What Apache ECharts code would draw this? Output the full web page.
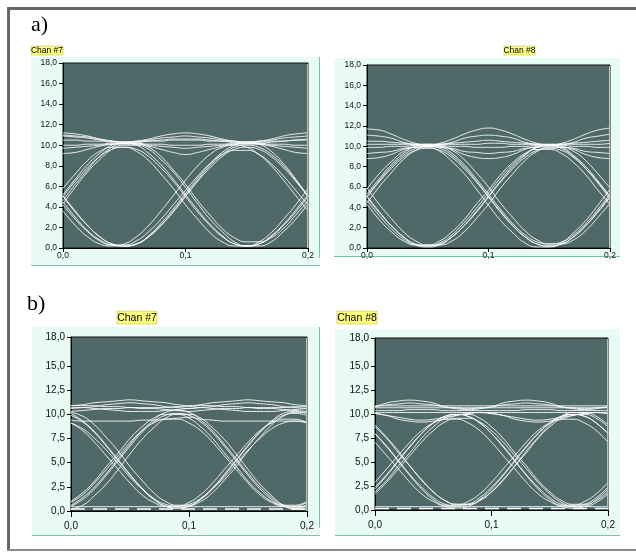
<!DOCTYPE html>
<html>
<head>
<meta charset="utf-8">
<script src="https://cdn.jsdelivr.net/npm/echarts@6/dist/echarts.min.js"></script>
<style>
html,body{margin:0;padding:0;background:#fff;}
#c{width:636px;height:554px;}
</style>
</head>
<body>
<div id="c"></div>
<script>
// time samples (s)
const xs = [0,0.01,0.02,0.03,0.04,0.05,0.06,0.07,0.08,0.09,0.1,0.11,0.12,0.13,0.14,0.15,0.16,0.17,0.18,0.19,0.2];
const xTicks = [0, 0.1, 0.2];
const yTicksA = [0,2,4,6,8,10,12,14,16,18];
const yTicksB = [0,2.5,5,7.5,10,12.5,15,18];
const panelTitles = ['Chan #7','Chan #8','Chan #7','Chan #8'];
const rowLabels = ['a)','b)'];

// ---- a) Chan #7 ----
const a7Rising = [
 [5.2,6.7,8.1,9.2,10.0,10.2,10.0,9.2,8.1,6.7,5.2,3.7,2.3,1.2,0.4,0.2,0.4,1.2,2.3,3.7,5.2],
 [4.3,5.9,7.4,8.6,9.6,10.0,10.0,9.6,8.6,7.4,5.9,4.3,2.8,1.6,0.6,0.2,0.2,0.6,1.6,2.8,4.3],
 [5.0,6.5,7.8,8.9,9.6,9.8,9.6,8.9,7.8,6.5,5.0,3.5,2.2,1.1,0.4,0.2,0.4,1.1,2.2,3.5,5.0],
 [4.6,6.2,7.6,8.9,9.8,10.2,10.2,9.8,8.9,7.6,6.2,4.6,3.2,1.9,1.0,0.6,0.6,1.0,1.9,3.2,4.6],
 [5.8,7.2,8.5,9.4,9.8,9.8,9.4,8.5,7.2,5.8,4.2,2.8,1.5,0.6,0.2,0.2,0.6,1.5,2.8,4.2,5.8]
];
const a7Falling = [
 [5.0,3.5,2.2,1.1,0.4,0.2,0.4,1.1,2.2,3.5,5.0,6.5,7.8,8.9,9.6,9.8,9.6,8.9,7.8,6.5,5.0],
 [4.2,2.8,1.6,0.7,0.3,0.3,0.7,1.6,2.8,4.2,5.6,7.0,8.2,9.1,9.5,9.5,9.1,8.2,7.0,5.6,4.2],
 [3.6,2.2,1.1,0.4,0.2,0.4,1.1,2.2,3.6,5.1,6.6,8.0,9.1,9.8,10.0,9.8,9.1,8.0,6.6,5.1,3.6],
 [5.1,3.6,2.2,1.1,0.4,0.2,0.4,1.1,2.2,3.6,5.1,6.6,8.0,9.1,9.8,10.0,9.8,9.1,8.0,6.6,5.1],
 [4.5,3.0,1.7,0.8,0.3,0.2,0.4,1.2,2.4,3.8,5.3,6.8,8.2,9.3,10.0,10.3,10.1,9.4,8.2,6.7,5.0]
];
const a7High = [
 [11.2,11.1,10.9,10.6,10.4,10.3,10.4,10.6,10.9,11.1,11.2,11.1,10.9,10.6,10.4,10.3,10.4,10.6,10.9,11.1,11.2],
 [9.2,9.3,9.6,9.9,10.1,10.2,10.1,9.9,9.6,9.3,9.1,9.3,9.6,9.9,10.1,10.2,10.1,9.9,9.6,9.3,9.2],
 [10.9,10.8,10.7,10.5,10.4,10.3,10.4,10.5,10.7,10.8,10.9,10.8,10.7,10.5,10.4,10.3,10.4,10.5,10.7,10.8,10.9],
 [9.7,9.8,9.9,10.0,10.1,10.1,10.1,10.0,9.9,9.8,9.7,9.8,9.9,10.0,10.1,10.1,10.1,10.0,9.9,9.8,9.7],
 [10.5,10.5,10.4,10.4,10.3,10.3,10.3,10.4,10.4,10.5,10.5,10.5,10.4,10.4,10.3,10.3,10.3,10.4,10.4,10.5,10.5],
 [10.0,10.0,10.1,10.1,10.2,10.2,10.2,10.1,10.1,10.0,10.0,10.0,10.1,10.1,10.2,10.2,10.2,10.1,10.1,10.0,10.0],
 [11.0,10.9,10.8,10.6,10.4,10.3,10.3,10.4,10.5,10.6,10.6,10.6,10.5,10.4,10.3,10.2,10.2,10.3,10.4,10.5,10.6]
];

// ---- a) Chan #8 ----
const a8Rising = [
 [5.1,6.6,8.0,9.1,9.8,10.0,9.8,9.1,8.0,6.6,5.1,3.6,2.2,1.1,0.4,0.2,0.4,1.1,2.2,3.6,5.1],
 [5.8,7.3,8.5,9.5,9.9,9.9,9.5,8.5,7.3,5.8,4.2,2.7,1.5,0.5,0.1,0.1,0.5,1.5,2.7,4.2,5.8],
 [4.4,6.0,7.4,8.7,9.6,10.0,10.0,9.6,8.7,7.4,6.0,4.4,3.0,1.7,0.8,0.4,0.4,0.8,1.7,3.0,4.4],
 [5.0,6.5,7.8,8.9,9.6,9.8,9.6,8.9,7.8,6.5,5.0,3.5,2.2,1.1,0.4,0.2,0.4,1.1,2.2,3.5,5.0],
 [5.3,6.8,8.2,9.3,10.0,10.2,10.0,9.3,8.2,6.8,5.3,3.8,2.4,1.3,0.6,0.4,0.6,1.3,2.4,3.8,5.3]
];
const a8Falling = [
 [5.1,3.6,2.2,1.1,0.3,0.1,0.3,1.1,2.2,3.6,5.1,6.6,8.0,9.1,9.9,10.1,9.9,9.1,8.0,6.6,5.1],
 [4.3,2.8,1.6,0.7,0.3,0.3,0.7,1.6,2.8,4.3,5.7,7.2,8.4,9.3,9.7,9.7,9.3,8.4,7.2,5.7,4.3],
 [5.9,4.3,2.9,1.6,0.7,0.3,0.3,0.7,1.6,2.9,4.3,5.9,7.3,8.6,9.5,9.9,9.9,9.5,8.6,7.3,5.9],
 [5.0,3.5,2.2,1.1,0.4,0.2,0.4,1.1,2.2,3.5,5.0,6.5,7.8,8.9,9.6,9.8,9.6,8.9,7.8,6.5,5.0],
 [4.7,3.2,1.9,0.9,0.3,0.2,0.5,1.3,2.5,3.9,5.4,6.9,8.2,9.2,9.9,10.1,9.8,9.0,7.8,6.4,4.8]
];
const a8High = [
 [11.7,11.6,11.2,10.7,10.3,10.1,10.3,10.7,11.2,11.6,11.8,11.6,11.2,10.7,10.3,10.1,10.3,10.7,11.2,11.6,11.8],
 [11.1,11.0,10.8,10.4,10.2,10.1,10.2,10.4,10.8,11.0,11.1,11.0,10.8,10.4,10.2,10.1,10.2,10.4,10.8,11.0,11.2],
 [8.8,8.9,9.2,9.7,10.0,10.1,10.0,9.7,9.2,8.9,8.8,8.9,9.2,9.7,10.0,10.1,10.0,9.7,9.2,8.9,8.8],
 [9.3,9.4,9.5,9.8,9.9,10.0,9.9,9.8,9.5,9.4,9.3,9.4,9.5,9.8,9.9,10.0,9.9,9.8,9.5,9.4,9.3],
 [10.5,10.5,10.4,10.3,10.2,10.2,10.2,10.3,10.4,10.5,10.6,10.5,10.4,10.3,10.2,10.2,10.2,10.3,10.4,10.5,10.6],
 [9.9,9.9,10.0,10.0,10.1,10.1,10.1,10.0,10.0,9.9,9.9,9.9,10.0,10.0,10.1,10.1,10.1,10.0,10.0,9.9,9.9],
 [10.2,10.2,10.2,10.2,10.2,10.2,10.2,10.2,10.2,10.2,10.3,10.3,10.2,10.2,10.2,10.2,10.2,10.2,10.2,10.2,10.3]
];

// ---- b) Chan #7 ----
const b7Rising = [
 [0.5,1.2,2.3,3.7,5.2,6.7,8.1,9.2,9.9,10.1,9.9,9.2,8.1,6.7,5.2,3.7,2.3,1.2,0.5,0.3,0.5],
 [1.0,1.9,3.1,4.6,6.0,7.5,8.7,9.6,10.0,10.0,9.6,8.7,7.5,6.0,4.6,3.1,1.9,1.0,0.6,0.6,1.0],
 [0.2,0.6,1.6,2.8,4.3,5.9,7.4,8.6,9.6,10.0,10.0,9.6,8.6,7.4,5.9,4.3,2.8,1.6,0.6,0.2,0.2],
 [0.6,1.4,2.5,3.9,5.4,6.9,8.3,9.4,10.2,10.4,10.2,9.4,8.3,6.9,5.4,3.9,2.5,1.4,0.6,0.4,0.6],
 [0.9,1.7,2.9,4.3,5.7,7.1,8.3,9.1,9.5,9.5,9.1,8.3,7.1,5.7,4.3,2.9,1.7,0.9,0.5,0.5,0.9]
];
const b7Falling = [
 [9.9,9.2,8.1,6.7,5.2,3.7,2.3,1.2,0.5,0.3,0.5,1.2,2.3,3.7,5.2,6.7,8.1,9.2,9.9,10.1,9.9],
 [9.1,8.3,7.1,5.7,4.3,2.9,1.7,0.9,0.5,0.5,0.9,1.7,2.9,4.3,5.7,7.1,8.3,9.1,9.5,9.5,9.1],
 [10.2,9.8,8.9,7.6,6.2,4.6,3.2,1.9,1.0,0.6,0.6,1.0,1.9,3.2,4.6,6.2,7.6,8.9,9.8,10.2,10.2],
 [10.1,9.3,8.2,6.8,5.3,3.8,2.4,1.3,0.5,0.3,0.5,1.3,2.4,3.8,5.3,6.8,8.2,9.3,10.1,10.3,10.1],
 [9.1,8.5,7.5,6.3,4.9,3.5,2.3,1.3,0.7,0.5,0.7,1.3,2.3,3.5,4.9,6.3,7.5,8.5,9.1,9.3,9.1]
];
const b7High = [
 [10.9,11.0,11.2,11.3,11.4,11.5,11.4,11.3,11.2,11.0,10.9,11.0,11.2,11.3,11.4,11.5,11.4,11.3,11.2,11.0,10.9],
 [10.6,10.7,10.8,11.0,11.1,11.2,11.1,11.0,10.8,10.7,10.6,10.7,10.8,11.0,11.1,11.2,11.1,11.0,10.8,10.7,10.6],
 [10.9,10.9,10.9,10.8,10.8,10.7,10.7,10.7,10.7,10.8,10.8,10.9,10.9,10.8,10.8,10.7,10.7,10.7,10.7,10.8,10.8],
 [10.7,10.7,10.6,10.5,10.4,10.3,10.3,10.3,10.4,10.5,10.6,10.7,10.6,10.5,10.4,10.3,10.3,10.3,10.4,10.5,10.6],
 [9.4,9.3,9.3,9.3,9.3,9.3,9.4,9.4,9.5,9.6,9.7,9.5,9.4,9.3,9.3,9.3,9.3,9.3,9.3,9.3,9.2],
 [10.3,10.4,10.5,10.6,10.6,10.7,10.6,10.6,10.5,10.4,10.3,10.4,10.5,10.6,10.6,10.7,10.6,10.6,10.5,10.4,10.3]
];
const b7Low = [
 [0.45,0.45,0.45,0.45,0.45,0.45,0.45,0.45,0.45,0.45,0.45,0.45,0.45,0.45,0.45,0.45,0.45,0.45,0.45,0.45,0.45]
];
const b7Base = [
 [0.2,0.2,0.2,0.2,0.2,0.2,0.2,0.2,0.2,0.2,0.2,0.2,0.2,0.2,0.2,0.2,0.2,0.2,0.2,0.2,0.2]
];

// ---- b) Chan #8 ----
const b8Rising = [
 [2.4,3.7,5.2,6.7,8.0,9.1,9.8,10.0,9.8,9.1,8.0,6.7,5.2,3.7,2.4,1.3,0.6,0.4,0.6,1.3,2.4],
 [2.9,4.3,5.7,7.1,8.3,9.1,9.5,9.5,9.1,8.3,7.1,5.7,4.3,2.9,1.7,0.9,0.5,0.5,0.9,1.7,2.9],
 [1.9,3.1,4.6,6.0,7.5,8.7,9.6,10.0,10.0,9.6,8.7,7.5,6.0,4.6,3.1,1.9,1.0,0.6,0.6,1.0,1.9],
 [2.2,3.6,5.1,6.6,8.0,9.1,9.8,10.0,9.8,9.1,8.0,6.6,5.1,3.6,2.2,1.1,0.4,0.2,0.4,1.1,2.2],
 [1.7,2.9,4.3,5.7,7.1,8.3,9.2,9.6,9.6,9.2,8.3,7.1,5.7,4.3,2.9,1.7,0.8,0.4,0.4,0.8,1.7]
];
const b8Falling = [
 [8.0,6.7,5.2,3.7,2.4,1.3,0.6,0.4,0.6,1.3,2.4,3.7,5.2,6.7,8.0,9.1,9.8,10.0,9.8,9.1,8.0],
 [7.1,5.7,4.3,2.9,1.7,0.9,0.5,0.5,0.9,1.7,2.9,4.3,5.7,7.1,8.3,9.1,9.5,9.5,9.1,8.3,7.1],
 [8.7,7.5,6.0,4.6,3.1,1.9,1.0,0.6,0.6,1.0,1.9,3.1,4.6,6.0,7.5,8.7,9.6,10.0,10.0,9.6,8.7],
 [8.0,6.6,5.1,3.6,2.2,1.1,0.4,0.2,0.4,1.1,2.2,3.6,5.1,6.6,8.0,9.1,9.8,10.0,9.8,9.1,8.0],
 [8.9,7.6,6.2,4.6,3.2,1.9,1.0,0.6,0.6,1.0,1.9,3.2,4.6,6.2,7.6,8.9,9.8,10.2,10.2,9.8,8.9]
];
const b8High = [
 [10.8,11.2,11.4,11.5,11.4,11.2,10.8,10.6,10.5,10.6,10.8,11.2,11.4,11.5,11.4,11.2,10.8,10.6,10.5,10.6,10.8],
 [10.8,11.0,11.1,11.2,11.1,11.0,10.8,10.7,10.6,10.7,10.8,11.0,11.1,11.2,11.1,11.0,10.8,10.7,10.6,10.7,10.8],
 [10.1,9.9,9.5,9.3,9.2,9.3,9.5,9.9,10.1,10.2,10.1,9.9,9.5,9.3,9.2,9.3,9.5,9.9,10.1,10.2,10.1],
 [10.1,9.9,9.7,9.5,9.4,9.5,9.7,9.9,10.1,10.2,10.1,9.9,9.7,9.5,9.4,9.5,9.7,9.9,10.1,10.2,10.1],
 [10.7,10.7,10.7,10.7,10.7,10.7,10.7,10.7,10.7,10.7,10.7,10.7,10.7,10.7,10.7,10.7,10.7,10.7,10.7,10.7,10.7],
 [10.9,10.9,10.9,10.9,10.9,10.9,10.9,10.9,10.9,10.9,10.9,10.9,10.9,10.9,10.9,10.9,10.9,10.9,10.9,10.9,10.9],
 [10.2,10.2,10.2,10.2,10.2,10.2,10.2,10.2,10.2,10.2,10.2,10.2,10.2,10.2,10.2,10.2,10.2,10.2,10.2,10.2,10.2],
 [10.4,10.4,10.4,10.5,10.5,10.5,10.4,10.4,10.4,10.4,10.4,10.4,10.4,10.5,10.5,10.5,10.4,10.4,10.4,10.4,10.4]
];
const b8Low = [
 [0.35,0.35,0.35,0.35,0.35,0.35,0.35,0.35,0.35,0.35,0.35,0.35,0.35,0.35,0.35,0.35,0.35,0.35,0.35,0.35,0.35]
];
const b8Base = [
 [0.15,0.15,0.15,0.15,0.15,0.15,0.15,0.15,0.15,0.15,0.15,0.15,0.15,0.15,0.15,0.15,0.15,0.15,0.15,0.15,0.15]
];

// ---------- layout / styles ----------
const PLOT_BG = '#4f6868';
const PANEL_BG = '#e8fcf4';
const PANEL_EDGE = '#7cc2aa';
const FRAME = '#666666';
const FONT = "'Liberation Sans', Arial, sans-serif";

const grids = [
  {left: 63, top: 63, width: 245, height: 185},
  {left: 367, top: 65, width: 243, height: 183},
  {left: 71, top: 337, width: 236, height: 174},
  {left: 375, top: 338, width: 233, height: 172}
];
const isB = [false, false, true, true];
const fmt = v => Number(v).toFixed(1).replace('.', ',');

const xAxes = grids.map((g, i) => ({
  type: 'value', gridIndex: i, min: 0, max: 0.2, interval: 0.1,
  axisLine: {show: true, onZero: false, lineStyle: {color: '#000', width: 1}},
  axisTick: {show: true, length: isB[i] ? 6 : 4, lineStyle: {color: '#000'}},
  axisLabel: {show: true, formatter: fmt, margin: isB[i] ? 10 : 3,
    fontSize: isB[i] ? 10 : 8.5, color: '#111', fontFamily: FONT,
    showMinLabel: true, showMaxLabel: true},
  splitLine: {show: false}
}));
const yAxes = grids.map((g, i) => {
  const ticks = isB[i] ? yTicksB : yTicksA;
  return {
    type: 'value', gridIndex: i, min: 0, max: 18,
    interval: isB[i] ? 2.5 : 2,
    axisLine: {show: true, onZero: false, lineStyle: {color: '#000', width: 1}},
    axisTick: {show: true, length: 4, lineStyle: {color: '#000'}, customValues: ticks},
    axisLabel: {show: true, formatter: fmt, margin: 6,
      fontSize: isB[i] ? 10 : 8.5, color: '#111', fontFamily: FONT, customValues: ticks},
    splitLine: {show: false}
  };
});

const groups = [
  [a7Rising, a7Falling, a7High],
  [a8Rising, a8Falling, a8High],
  [b7Rising, b7Falling, b7High, b7Low],
  [b8Rising, b8Falling, b8High, b8Low]
];
const bases = [null, null, b7Base, b8Base];

const series = [];
groups.forEach((gl, gi) => {
  gl.forEach(list => list.forEach(ys => {
    series.push({
      type: 'line', xAxisIndex: gi, yAxisIndex: gi,
      data: xs.map((x, k) => [x, ys[k]]),
      smooth: 0.5, symbol: 'none', silent: true, clip: true,
      lineStyle: {color: '#ffffff', width: 1, opacity: 0.88},
      z: 3
    });
  }));
  if (bases[gi]) bases[gi].forEach(ys => series.push({
    type: 'line', xAxisIndex: gi, yAxisIndex: gi,
    data: xs.map((x, k) => [x, ys[k]]),
    symbol: 'none', silent: true, clip: true,
    lineStyle: {color: '#ffffff', width: 1.5, type: [14, 8]},
    z: 4
  }));
});

// panel backgrounds
const panels = [
  {x: 31, y: 57, w: 289, h: 209, right: true},
  {x: 334, y: 58, w: 286, h: 199, right: false},
  {x: 32, y: 327, w: 288, h: 209, right: true},
  {x: 335, y: 329, w: 285, h: 207, right: false}
];
const labelBoxes = [
  {x: 31, y: 46, w: 32, h: 9, fs: 8.5},
  {x: 504, y: 46, w: 31, h: 9, fs: 8.5},
  {x: 117, y: 311, w: 40, h: 13, fs: 10.5},
  {x: 337, y: 311, w: 40, h: 13, fs: 10.5}
];

const graphics = [];
// outer frame
graphics.push({type: 'rect', shape: {x: 7, y: 7, width: 629, height: 3}, style: {fill: FRAME}, z: -5});
graphics.push({type: 'rect', shape: {x: 7, y: 7, width: 3, height: 543}, style: {fill: FRAME}, z: -5});
graphics.push({type: 'rect', shape: {x: 7, y: 549, width: 629, height: 2}, style: {fill: '#8a8a8a'}, z: -5});
panels.forEach(p => {
  graphics.push({type: 'rect', shape: {x: p.x, y: p.y, width: p.w, height: p.h}, style: {fill: PANEL_BG}, z: -4});
  graphics.push({type: 'rect', shape: {x: p.x, y: p.y + p.h - 1, width: p.w, height: 1}, style: {fill: PANEL_EDGE}, z: -3});
  if (p.right) graphics.push({type: 'rect', shape: {x: p.x + p.w - 1, y: p.y, width: 1, height: p.h - 8}, style: {fill: PANEL_EDGE}, z: -3});
});
labelBoxes.forEach((b, i) => {
  graphics.push({type: 'rect', shape: {x: b.x, y: b.y, width: b.w, height: b.h},
    style: {fill: '#ffff80', stroke: '#b0b040', lineWidth: 0.5}, z: 5});
  graphics.push({type: 'text', x: b.x + b.w / 2, y: b.y + b.h / 2 + 0.5, z: 6,
    style: {text: panelTitles[i], font: b.fs + 'px ' + FONT, fill: '#000',
      align: 'center', verticalAlign: 'middle'}});
});
graphics.push({type: 'text', x: 31, y: 25, z: 6,
  style: {text: rowLabels[0], font: "22px 'Liberation Serif', 'Times New Roman', serif", fill: '#000', align: 'left', verticalAlign: 'middle'}});
graphics.push({type: 'text', x: 27, y: 304, z: 6,
  style: {text: rowLabels[1], font: "22px 'Liberation Serif', 'Times New Roman', serif", fill: '#000', align: 'left', verticalAlign: 'middle'}});
// light right edge of plot areas
grids.forEach(g => {
  graphics.push({type: 'rect', shape: {x: g.left + g.width - 1, y: g.top + 1, width: 1, height: g.height - 1}, style: {fill: '#b8c4c4'}, z: 10});
});

const chart = echarts.init(document.getElementById('c'), null, {renderer: 'canvas', width: 636, height: 554});
chart.setOption({
  animation: false,
  backgroundColor: '#ffffff',
  grid: grids.map(g => Object.assign({show: true, backgroundColor: PLOT_BG, borderColor: '#111', borderWidth: 1, containLabel: false}, g)),
  xAxis: xAxes,
  yAxis: yAxes,
  graphic: {elements: graphics},
  series: series
});
</script>
</body>
</html>
